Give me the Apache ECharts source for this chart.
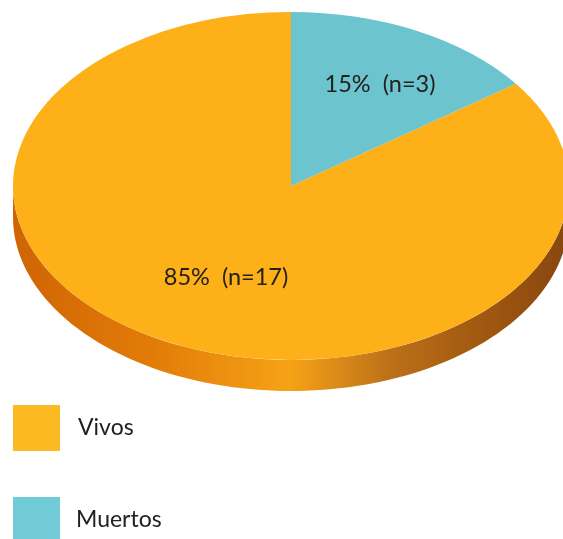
<!DOCTYPE html>
<html>
<head>
<meta charset="utf-8">
<style>html,body{margin:0;padding:0;background:#fff}#c{width:563px;height:539px}</style>
<script src="https://cdn.jsdelivr.net/npm/echarts@6/dist/echarts.min.js"></script>
</head>
<body>
<div id="c"></div>
<script>
const categories = ['Vivos', 'Muertos'];
const percents = [85, 15];
const counts = [17, 3];
const sliceColors = ['#fdb018', '#6cc4ce'];
const legendColors = ['#fbb922', '#70cbd6'];
const legendTextPads = [[4, 0, 0, 13], [12, 0, 0, 11]];
const startOffsets = [15, 0];
const labelSpots = [[226, 277], [380, 84]];

const cx = 291, cy = 186, rx = 278, ry = 174, depth = 31;
const FONT = 'Lato';

function sidePoints() {
  const pts = [];
  for (let a = 0; a <= 180; a += 2) {
    const t = a * Math.PI / 180;
    pts.push([cx + rx * Math.cos(t), cy + ry * Math.sin(t)]);
  }
  for (let a = 180; a >= 0; a -= 2) {
    const t = a * Math.PI / 180;
    pts.push([cx + rx * Math.cos(t), cy + depth + ry * Math.sin(t)]);
  }
  return pts;
}

function makeRender(i) {
  return function (params, api) {
    const pct = api.value(0);
    const a0 = -Math.PI / 2 + startOffsets[i] / 100 * 2 * Math.PI;
    const a1 = a0 + pct / 100 * 2 * Math.PI;
    const children = [];
    if (i === 0) {
      children.push({
        type: 'polygon',
        shape: { points: sidePoints() },
        style: {
          fill: {
            type: 'linear', x: 0, y: 0, x2: 1, y2: 0,
            colorStops: [
              { offset: 0, color: '#cf6404' },
              { offset: 0.25, color: '#e27c08' },
              { offset: 0.5, color: '#f6a216' },
              { offset: 0.68, color: '#bb7019' },
              { offset: 0.85, color: '#a0570f' },
              { offset: 1, color: '#874710' }
            ]
          }
        }
      });
    }
    children.push({
      type: 'sector',
      x: cx, y: cy,
      scaleY: ry / rx,
      shape: { cx: 0, cy: 0, r: rx, r0: 0, startAngle: a0, endAngle: a1, clockwise: true },
      style: { fill: sliceColors[i] }
    });
    children.push({
      type: 'text',
      x: labelSpots[i][0], y: labelSpots[i][1],
      style: {
        text: pct + '%  (n=' + counts[i] + ')',
        fontFamily: FONT, fontSize: 23.5, fill: '#23201d',
        align: 'center', verticalAlign: 'middle'
      }
    });
    return { type: 'group', children };
  };
}

const chart = echarts.init(document.getElementById('c'), null, { renderer: 'canvas' });
chart.setOption({
  animation: false,
  backgroundColor: '#ffffff',
  legend: {
    orient: 'vertical',
    left: 13, top: 405,
    height: 200,
    padding: 0,
    itemWidth: 47, itemHeight: 46, itemGap: 46,
    icon: 'rect',
    selectedMode: false,
    textStyle: { fontFamily: FONT, fontSize: 23, color: '#23201d' },
    data: categories.map((name, i) => ({
      name,
      itemStyle: { color: legendColors[i] },
      textStyle: { padding: legendTextPads[i] }
    }))
  },
  series: categories.map((name, i) => ({
    type: 'custom',
    name,
    coordinateSystem: 'none',
    itemStyle: { color: sliceColors[i] },
    data: [[percents[i]]],
    renderItem: makeRender(i),
    silent: true
  }))
});
</script>
</body>
</html>
